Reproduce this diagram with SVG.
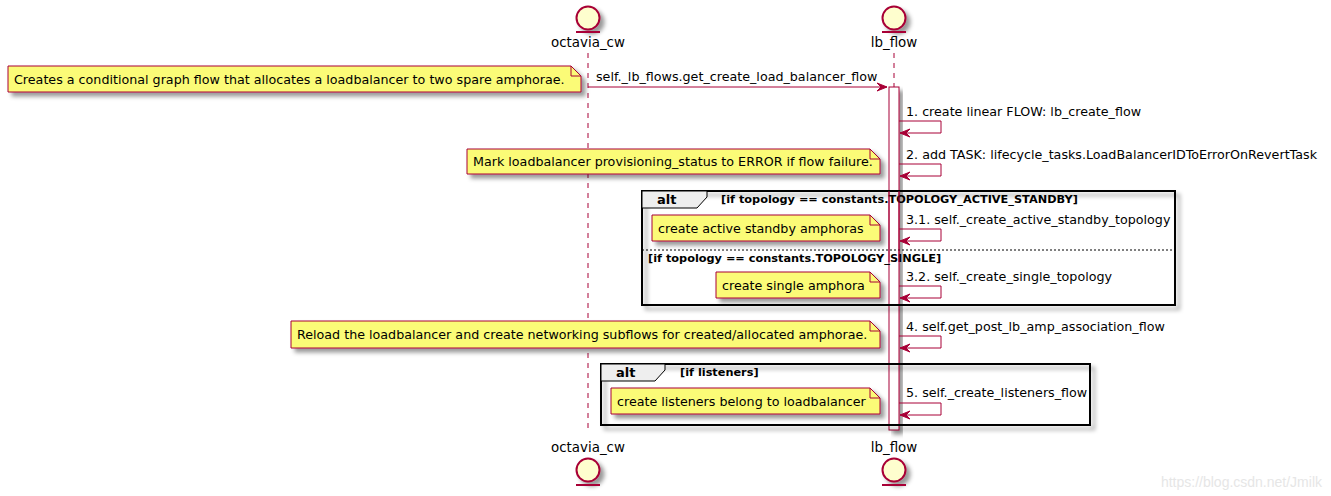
<svg xmlns="http://www.w3.org/2000/svg" width="1331" height="496" viewBox="0 0 1331 496">
<style>
text{font-family:"DejaVu Sans","Liberation Sans",sans-serif;fill:#000}
.pn{font-size:13.4px}
.msg{font-size:12.7px}
.nt{font-size:12.7px}
.altl{font-size:13px;font-weight:bold}
.cond{font-size:11.3px;font-weight:bold}
.life{stroke:#A80036;stroke-width:1;stroke-dasharray:5,5;fill:none}
.ent{fill:#FEFECE;stroke:#A80036;stroke-width:2}
.entl{stroke:#A80036;stroke-width:2}
.note{fill:#FBFB77;stroke:#A80036;stroke-width:1}
.fold{fill:none;stroke:#A80036;stroke-width:1}
.frame{fill:none;stroke:#000;stroke-width:2}
.tab{fill:#EEEEEE;stroke:#000;stroke-width:1}
.sep{stroke:#000;stroke-width:1;stroke-dasharray:2,2}
.arr{fill:none;stroke:#A80036;stroke-width:1}
.head{fill:#A80036;stroke:#A80036;stroke-width:1}
.act{fill:#FFFFFF;stroke:#A80036;stroke-width:1}
.wm{font-family:"Liberation Sans",sans-serif;font-size:14px;fill:#e6e6e6}
</style>
<defs>
<filter id="sh" x="-20%" y="-20%" width="160%" height="160%">
<feGaussianBlur in="SourceAlpha" stdDeviation="2" result="b"/>
<feColorMatrix in="b" type="matrix" values="0 0 0 0 0  0 0 0 0 0  0 0 0 0 0  0 0 0 .4 0" result="b2"/>
<feOffset in="b2" dx="4" dy="4" result="b3"/>
<feMerge><feMergeNode in="b3"/><feMergeNode in="SourceGraphic"/></feMerge>
</filter>
</defs>
<rect width="1331" height="496" fill="#FFFFFF"/>

<g id="lifelines">
<line class="life" x1="588" y1="53" x2="588" y2="433"/>
<line class="life" x1="894" y1="53" x2="894" y2="433"/>
</g>

<g id="activation">
<rect class="act" x="889" y="87" width="10" height="343" filter="url(#sh)"/>
</g>

<g id="frames">
<g id="alt1">
<rect class="frame" x="642" y="191" width="533" height="114" filter="url(#sh)"/>
<polygon class="tab" points="642,191 707,191 707,197 697,208 642,208"/>
<text class="altl" x="657" y="204">alt</text>
<text class="cond" x="721" y="203">[if topology == constants.TOPOLOGY_ACTIVE_STANDBY]</text>
<line class="sep" x1="642" y1="250" x2="1175" y2="250"/>
<text class="cond" x="648" y="262">[if topology == constants.TOPOLOGY_SINGLE]</text>
</g>
<g id="alt2">
<rect class="frame" x="601" y="364" width="489" height="61" filter="url(#sh)"/>
<polygon class="tab" points="601,364 665,364 665,370 655,381 601,381"/>
<text class="altl" x="616" y="377">alt</text>
<text class="cond" x="680" y="376">[if listeners]</text>
</g>
</g>

<g id="activation-edges">
<line stroke="#A80036" stroke-width="1" x1="889" y1="191" x2="889" y2="262"/>
<line stroke="#A80036" stroke-width="1" x1="899" y1="191" x2="899" y2="262"/>
</g>

<g id="octavia_cw">
<circle class="ent" cx="588" cy="18" r="11.5" filter="url(#sh)"/>
<line class="entl" x1="576" y1="32" x2="600" y2="32"/>
<text class="pn" x="588" y="47" text-anchor="middle">octavia_cw</text>
<text class="pn" x="588" y="452" text-anchor="middle">octavia_cw</text>
<circle class="ent" cx="588" cy="470" r="11.5" filter="url(#sh)"/>
<line class="entl" x1="576" y1="485" x2="600" y2="485"/>
</g>

<g id="lb_flow">
<circle class="ent" cx="894" cy="18" r="11.5" filter="url(#sh)"/>
<line class="entl" x1="882" y1="32" x2="906" y2="32"/>
<text class="pn" x="894" y="47" text-anchor="middle">lb_flow</text>
<text class="pn" x="894" y="452" text-anchor="middle">lb_flow</text>
<circle class="ent" cx="894" cy="470" r="11.5" filter="url(#sh)"/>
<line class="entl" x1="882" y1="485" x2="906" y2="485"/>
</g>

<g id="notes">
<g id="note1">
<path class="note" d="M8,66 L8,92 L581,92 L581,76 L571,66 Z" filter="url(#sh)"/>
<path class="fold" d="M571,66 L571,76 L581,76"/>
<text class="nt" x="14" y="84">Creates a conditional graph flow that allocates a loadbalancer to two spare amphorae.</text>
</g>
<g id="note2">
<path class="note" d="M467,149 L467,174 L880,174 L880,159 L870,149 Z" filter="url(#sh)"/>
<path class="fold" d="M870,149 L870,159 L880,159"/>
<text class="nt" x="473" y="166">Mark loadbalancer provisioning_status to ERROR if flow failure.</text>
</g>
<g id="note3">
<path class="note" d="M652,215 L652,241 L880,241 L880,225 L870,215 Z" filter="url(#sh)"/>
<path class="fold" d="M870,215 L870,225 L880,225"/>
<text class="nt" x="658" y="233">create active standby amphoras</text>
</g>
<g id="note4">
<path class="note" d="M716,272 L716,298 L880,298 L880,282 L870,272 Z" filter="url(#sh)"/>
<path class="fold" d="M870,272 L870,282 L880,282"/>
<text class="nt" x="722" y="290">create single amphora</text>
</g>
<g id="note5">
<path class="note" d="M291,321 L291,348 L880,348 L880,331 L870,321 Z" filter="url(#sh)"/>
<path class="fold" d="M870,321 L870,331 L880,331"/>
<text class="nt" x="297" y="339">Reload the loadbalancer and create networking subflows for created/allocated amphorae.</text>
</g>
<g id="note6">
<path class="note" d="M611,388 L611,414 L880,414 L880,398 L870,388 Z" filter="url(#sh)"/>
<path class="fold" d="M870,388 L870,398 L880,398"/>
<text class="nt" x="617" y="406">create listeners belong to loadbalancer</text>
</g>
</g>

<g id="connectors">
<line class="arr" x1="588" y1="87" x2="887" y2="87"/>
<polygon class="head" points="877,83 887,87 877,91 881,87"/>
<text class="msg" x="596" y="81">self._lb_flows.get_create_load_balancer_flow</text>

<polyline class="arr" points="899,121 941,121 941,133 900,133"/>
<polygon class="head" points="910,129 900,133 910,137 906,133"/>
<text class="msg" x="906" y="116">1. create linear FLOW: lb_create_flow</text>

<polyline class="arr" points="899,164 941,164 941,176 900,176"/>
<polygon class="head" points="910,172 900,176 910,180 906,176"/>
<text class="msg" x="906" y="159">2. add TASK: lifecycle_tasks.LoadBalancerIDToErrorOnRevertTask</text>

<polyline class="arr" points="899,229 941,229 941,241 900,241"/>
<polygon class="head" points="910,237 900,241 910,245 906,241"/>
<text class="msg" x="906" y="224">3.1. self._create_active_standby_topology</text>

<polyline class="arr" points="899,286 941,286 941,298 900,298"/>
<polygon class="head" points="910,294 900,298 910,302 906,298"/>
<text class="msg" x="906" y="281">3.2. self._create_single_topology</text>

<polyline class="arr" points="899,336 941,336 941,348 900,348"/>
<polygon class="head" points="910,344 900,348 910,352 906,348"/>
<text class="msg" x="906" y="331">4. self.get_post_lb_amp_association_flow</text>

<polyline class="arr" points="899,403 941,403 941,415 900,415"/>
<polygon class="head" points="910,411 900,415 910,419 906,415"/>
<text class="msg" x="906" y="397">5. self._create_listeners_flow</text>
</g>

<text class="wm" x="1322" y="487" text-anchor="end">https://blog.csdn.net/Jmilk</text>
</svg>
